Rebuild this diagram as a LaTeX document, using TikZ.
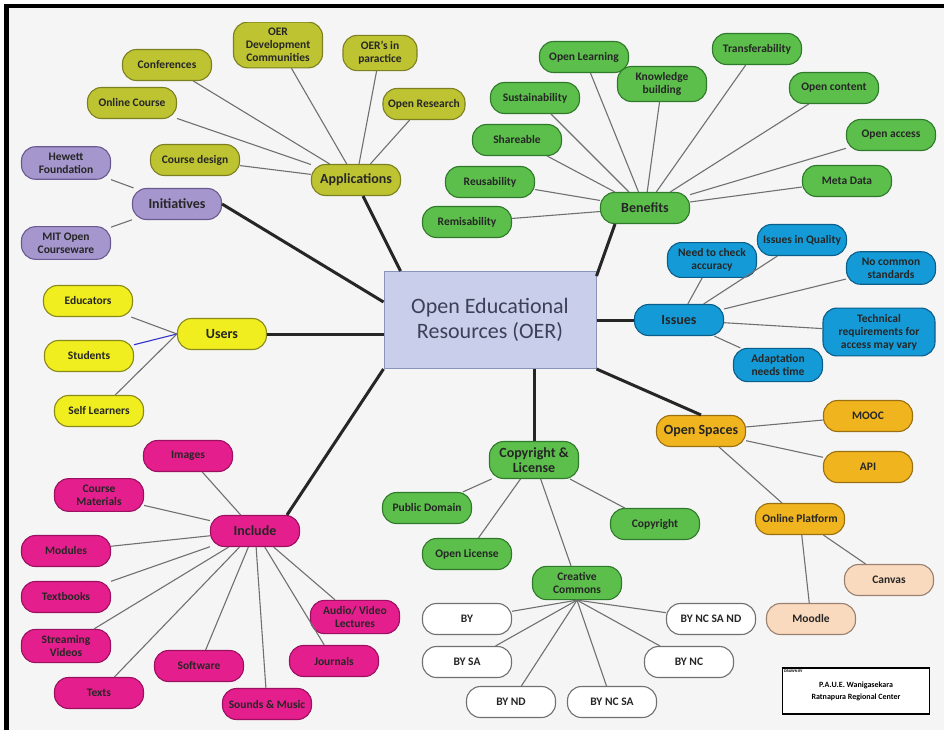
\documentclass[tikz,border=0pt]{standalone}
\usepackage{fontspec}
\setmainfont{Carlito}
\usepackage{xcolor}
\usepackage{tikz}

\definecolor{oliveFill}{HTML}{BEC332}
\definecolor{oliveLine}{HTML}{7D8020}
\definecolor{lilacFill}{HTML}{A596CD}
\definecolor{lilacLine}{HTML}{6A5A90}
\definecolor{lemonFill}{HTML}{F0EE1E}
\definecolor{lemonLine}{HTML}{8A8A1A}
\definecolor{pinkFill}{HTML}{E41E8C}
\definecolor{pinkLine}{HTML}{9B1060}
\definecolor{leafFill}{HTML}{5CBE4B}
\definecolor{leafLine}{HTML}{2F7A2A}
\definecolor{skyFill}{HTML}{149BD7}
\definecolor{skyLine}{HTML}{0B5E8A}
\definecolor{amberFill}{HTML}{F0B41E}
\definecolor{amberLine}{HTML}{9A7012}
\definecolor{peachFill}{HTML}{FADABE}
\definecolor{peachLine}{HTML}{9A8070}
\definecolor{plainFill}{HTML}{FFFFFF}
\definecolor{plainLine}{HTML}{707070}
\definecolor{hubFill}{HTML}{C9CFEA}
\definecolor{hubLine}{HTML}{8A93B8}
\definecolor{hubText}{HTML}{3C4058}
\definecolor{paper}{HTML}{F5F5F5}
\definecolor{twig}{HTML}{707070}

\begin{document}
\begin{tikzpicture}[
    x=1pt, y=-1pt,
    leaf/.style={draw=#1Line, fill=#1Fill, rounded corners=14pt, line width=1.1pt, align=center,
        minimum width=89pt, minimum height=31pt, inner ysep=6pt,
        font=\fontsize{11.5}{13}\selectfont\bfseries, text=black!85},
    topic/.style={leaf=#1, font=\fontsize{14}{15}\selectfont\bfseries},
    hub/.style={draw=hubLine, fill=hubFill, line width=1pt, align=center, minimum width=212pt,
        minimum height=97pt, text=hubText, font=\fontsize{22}{25}\selectfont},
    credit/.style={draw, line width=1.2pt, fill=white, align=center, minimum width=147pt,
        minimum height=46pt, font=\fontsize{8}{12}\selectfont\bfseries},
    link/.style={twig, line width=1.1pt},
    trunk/.style={black!85, line width=3pt}
]
\useasboundingbox (0,0) rectangle (944,730);
\fill[white] (0,0) rectangle (944,730);
\fill[paper] (9,8) rectangle (944,730);
\fill[black] (4,4) rectangle (944,8);
\fill[black] (4,4) rectangle (9,730);

\node[hub] (oer) at (490,320) {Open Educational\\Resources (OER)};

% applications
\node[topic=olive] (app) at (356,180) {Applications};
\node[leaf=olive] (conf) at (167,65) {Conferences};
\node[leaf=olive] (onl) at (132,103) {Online Course};
\begin{scope}
\clip (0,23) rectangle (944,730);
\node[leaf=olive] (oerdev) at (278,45) {OER\\Development\\Communities};
\end{scope}
\node[leaf=olive, minimum width=74pt] (oerprac) at (380,53) {OER's in\\paractice};
\node[leaf=olive, minimum width=82pt] (ores) at (424,104) {Open Research};
\node[leaf=olive] (cdes) at (195,160) {Course design};

% initiatives
\node[topic=lilac] (init) at (177,204) {Initiatives};
\node[leaf=lilac] (hew) at (66,163) {Hewett\\Foundation};
\node[leaf=lilac] (mit) at (66,243) {MIT Open\\Courseware};

% users
\node[topic=lemon] (users) at (222,334) {Users};
\node[leaf=lemon] (edu) at (88,301) {Educators};
\node[leaf=lemon] (stu) at (89,356) {Students};
\node[leaf=lemon] (self) at (99,411) {Self Learners};

% include
\node[topic=pink] (incl) at (255,531) {Include};
\node[leaf=pink] (img) at (188,456) {Images};
\node[leaf=pink] (cmat) at (99,495) {Course\\Materials};
\node[leaf=pink] (mod) at (66,551) {Modules};
\node[leaf=pink] (tbk) at (66,597) {Textbooks};
\node[leaf=pink] (svid) at (66,646) {Streaming\\Videos};
\node[leaf=pink] (txt) at (99,693) {Texts};
\node[leaf=pink] (soft) at (199,666) {Software};
\node[leaf=pink] (snd) at (267,704) {Sounds \& Music};
\node[leaf=pink] (jour) at (334,661) {Journals};
\node[leaf=pink] (avl) at (355,617) {Audio/ Video\\Lectures};

% benefits
\node[topic=leaf] (ben) at (645,208) {Benefits};
\node[leaf=leaf] (olrn) at (584,57) {Open Learning};
\node[leaf=leaf] (kbld) at (662,84) {Knowledge\\building};
\node[leaf=leaf] (trans) at (757,49) {Transferability};
\node[leaf=leaf] (sust) at (535,98) {Sustainability};
\node[leaf=leaf] (ocont) at (834,88) {Open content};
\node[leaf=leaf] (share) at (517,140) {Shareable};
\node[leaf=leaf] (oacc) at (891,135) {Open access};
\node[leaf=leaf] (reus) at (490,182) {Reusability};
\node[leaf=leaf] (remis) at (467,222) {Remisability};
\node[leaf=leaf] (meta) at (847,181) {Meta Data};

% issues
\node[topic=sky] (iss) at (679,320) {Issues};
\node[leaf=sky] (acc) at (712,260) {Need to check\\accuracy};
\node[leaf=sky] (qual) at (802,240) {Issues in Quality};
\node[leaf=sky] (nostd) at (891,268) {No common\\standards};
\node[leaf=sky, minimum width=112pt] (tech) at (879,332) {Technical\\requirements for\\access may vary};
\node[leaf=sky] (adapt) at (778,365) {Adaptation\\needs time};

% open spaces
\node[topic=amber] (osp) at (701,431) {Open Spaces};
\node[leaf=amber] (mooc) at (868,416) {MOOC};
\node[leaf=amber] (api) at (868,467) {API};
\node[leaf=amber] (oplat) at (800,519) {Online Platform};
\node[leaf=peach] (canv) at (889,580) {Canvas};
\node[leaf=peach] (mood) at (811,619) {Moodle};

% copyright and license
\node[topic=leaf] (cr) at (534,460) {Copyright \&\\License};
\node[leaf=leaf] (pd) at (427,508) {Public Domain};
\node[leaf=leaf] (ol) at (467,554) {Open License};
\node[leaf=leaf] (cc) at (577,583) {Creative\\Commons};
\node[leaf=leaf] (copy) at (655,524) {Copyright};
\node[leaf=plain] (by) at (467,619) {BY};
\node[leaf=plain] (bysa) at (467,662) {BY SA};
\node[leaf=plain] (bynd) at (511,702) {BY ND};
\node[leaf=plain] (byncsa) at (612,702) {BY NC SA};
\node[leaf=plain] (bync) at (689,662) {BY NC};
\node[leaf=plain] (byncsand) at (711,619) {BY NC SA ND};

\node[credit] (drawn) at (856,691) {P.A.U.E. Wanigasekara\\Ratnapura Regional Center};
\node[anchor=north west, inner sep=2pt, font=\fontsize{4}{4}\selectfont\bfseries] (drawnby) at (drawn.north west) {DRAWN BY};

\draw[trunk] ([xshift=7pt]app.south) -- ([xshift=17pt]oer.north west);
\draw[trunk] (init.east) -- ([yshift=18pt]oer.west);
\draw[trunk] (users.east) -- (users.east -| oer.west);
\draw[trunk] ([xshift=32pt]incl.north) -- (oer.south west);
\draw[trunk] ([xshift=-30pt]ben.south) -- ([yshift=-5pt]oer.north east);
\draw[trunk] (oer.east) -- (iss.west);
\draw[trunk] (osp.north) -- (oer.south east);
\draw[trunk] (cr.north) -- (cr.north |- oer.south);

\foreach \n in {conf, onl, oerdev, oerprac, ores, cdes}
    \draw[link] (app) -- (\n);
\foreach \n in {hew, mit}
    \draw[link] (init) -- (\n);
\draw[link] (users.west) -- (edu);
\draw[link, draw=blue!60!gray] (users.west) -- (stu);
\draw[link] (users.west) -- (self);
\foreach \n in {img, cmat, mod, tbk, svid, txt, soft, snd, jour, avl}
    \draw[link] (incl) -- (\n);
\foreach \n in {olrn, kbld, trans, sust, ocont, share, oacc, reus, remis, meta}
    \draw[link] (ben) -- (\n);
\foreach \n in {acc, qual, nostd, tech, adapt}
    \draw[link] (iss) -- (\n);
\foreach \n in {mooc, api, oplat}
    \draw[link] (osp) -- (\n);
\foreach \n in {canv, mood}
    \draw[link] (oplat) -- (\n);
\foreach \n in {pd, ol, cc, copy}
    \draw[link] (cr) -- (\n);
\foreach \n in {by, bysa, bynd, byncsa, bync, byncsand}
    \draw[link] (cc.south) -- (\n);
\end{tikzpicture}
\end{document}
